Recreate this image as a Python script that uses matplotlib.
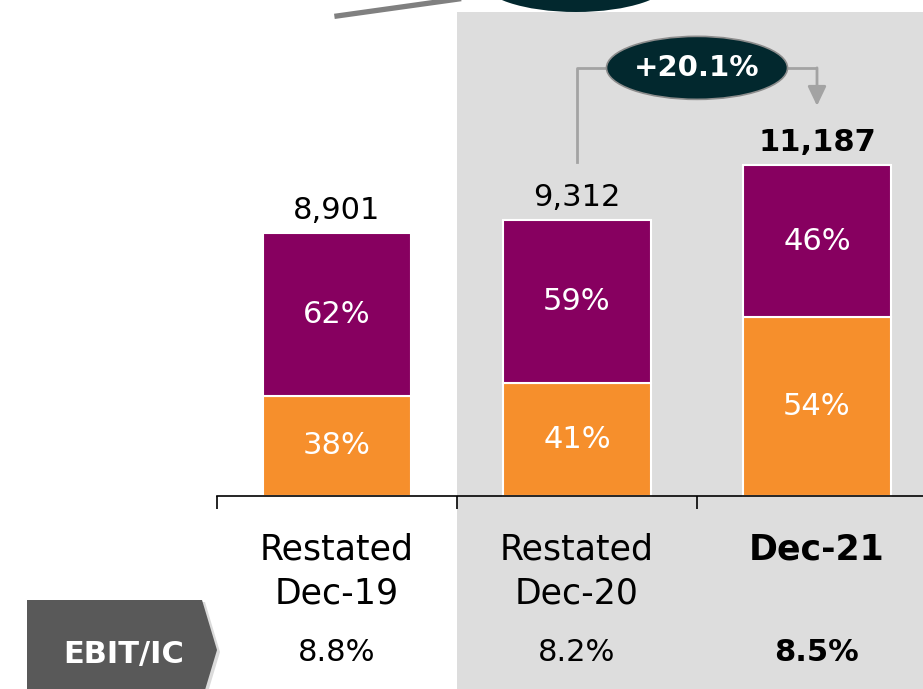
import matplotlib.pyplot as plt
import numpy as np
from matplotlib.lines import Line2D
from matplotlib.patches import Ellipse, Polygon, Rectangle

# data
categories = ["Restated\nDec-19", "Restated\nDec-20", "Dec-21"]
totals = [8901, 9312, 11187]
share_orange = [38, 41, 54]
share_purple = [62, 59, 46]
ebit_ic = ["8.8%", "8.2%", "8.5%"]
growth_label = "+20.1%"
row_label = "EBIT/IC"

ORANGE = "#F68F2C"
PURPLE = "#870060"
PANEL = "#DDDDDD"
DARK = "#02282E"
CONNECT = "#A3A3A3"

W, H = 923, 689
BASE = 496      # pixel row of the zero line
X0 = 337        # pixel column of the first bar centre
SLOT = 240      # pixels between bar centres
K = 0.0296      # pixels per unit of value


def dy(p):
    # pixel offset -> value units
    return p / K


def row(p):
    # pixel row (from top) -> value
    return (BASE - p) / K


def fx(p):
    return p / W


def fy(p):
    return 1 - p / H


fig = plt.figure(figsize=(W / 100, H / 100), dpi=100)
ax = fig.add_axes([0, 0, 1, 1])
ax.set_xlim(-X0 / SLOT, (W - X0) / SLOT)
ymin, ymax = (BASE - H) / K, BASE / K
ax.set_ylim(ymin, ymax)
ax.axis("off")

# shaded panel behind the last two periods
ax.add_patch(Rectangle((0.5, ymin), 3, row(12) - ymin, color=PANEL, zorder=0, lw=0))

x = np.arange(len(totals))
tot = np.array(totals, dtype=float)
orange_vals = tot * np.array(share_orange) / 100
purple_vals = tot - orange_vals
bw = 148 / SLOT
ax.bar(x, orange_vals, width=bw, color=ORANGE, edgecolor="white", lw=1.5, zorder=2)
ax.bar(x, purple_vals, bottom=orange_vals, width=bw, color=PURPLE, edgecolor="white", lw=1.5, zorder=2)

# axis line with category separators
ax.plot([-0.5, 3], [0, 0], color="black", lw=1.2, zorder=3)
ax.vlines([-0.5, 0.5, 1.5], -dy(13), 0, color="black", lw=1.2, zorder=3)

last = len(totals) - 1
for i in x:
    bold = "bold" if i == last else "normal"
    ax.text(i, totals[i] + dy(14), f"{totals[i]:,}", ha="center", va="baseline",
            fontsize=22, weight=bold, color="black")
    ax.text(i, orange_vals[i] / 2, f"{share_orange[i]}%", ha="center", va="center",
            fontsize=22, color="white", zorder=4)
    ax.text(i, orange_vals[i] + purple_vals[i] / 2, f"{share_purple[i]}%", ha="center",
            va="center", fontsize=22, color="white", zorder=4)
    for j, line in enumerate(categories[i].split("\n")):
        ax.text(i, row(560 + 43 * j), line, ha="center", va="baseline",
                fontsize=25, weight=bold, color="black")
    ax.text(i, row(661), ebit_ic[i], ha="center", va="baseline",
            fontsize=22, weight=bold, color="black")

# growth callout between Dec-20 and Dec-21
ew = 181 / SLOT
y_line = totals[2] + dy(97)
y_start = totals[1] + dy(58)
y_tip = totals[2] + dy(59)
ax.plot([1, 1, 1.5 - ew / 2], [y_start, y_line, y_line], color=CONNECT, lw=2.0, zorder=3)
ax.plot([1.5 + ew / 2, 2], [y_line, y_line], color=CONNECT, lw=2.0, zorder=3,
        solid_capstyle="butt")
ax.annotate("", xy=(2, y_tip), xytext=(2, y_line),
            arrowprops=dict(arrowstyle="-|>,head_length=0.42,head_width=0.2",
                            color=CONNECT, lw=2.0, mutation_scale=28,
                            shrinkA=0, shrinkB=0), zorder=3)
ax.add_patch(Ellipse((1.5, y_line), ew, dy(63), fc=DARK, ec="#8C8C8C", lw=1.2, zorder=4))
ax.text(1.5, y_line, growth_label, ha="center", va="center", fontsize=21,
        weight="bold", color="white", zorder=5)

# cut-off callout at the top of the slide
fig.add_artist(Line2D([fx(337), fx(530)], [fy(16), fy(-11)], color="#808080", lw=3.8))
fig.add_artist(Ellipse((fx(576), fy(-20)), 190 / W, 64 / H, fc=DARK, ec="none",
                       transform=fig.transFigure))

# EBIT/IC row tag
tag = [(27, 600), (202, 600), (217, 650), (202, 700), (27, 700)]
shadow = [(fx(a + 3), fy(b + 2)) for a, b in tag]
fig.add_artist(Polygon(shadow, closed=True, fc="#C4C4C4", ec="none", alpha=0.6,
                       transform=fig.transFigure))
fig.add_artist(Polygon([(fx(a), fy(b)) for a, b in tag], closed=True, fc="#595959",
                       ec="none", transform=fig.transFigure))
fig.text(fx(124), fy(663), row_label, ha="center", va="baseline", fontsize=22,
         weight="bold", color="white")

fig.savefig("out.png", dpi=100)
